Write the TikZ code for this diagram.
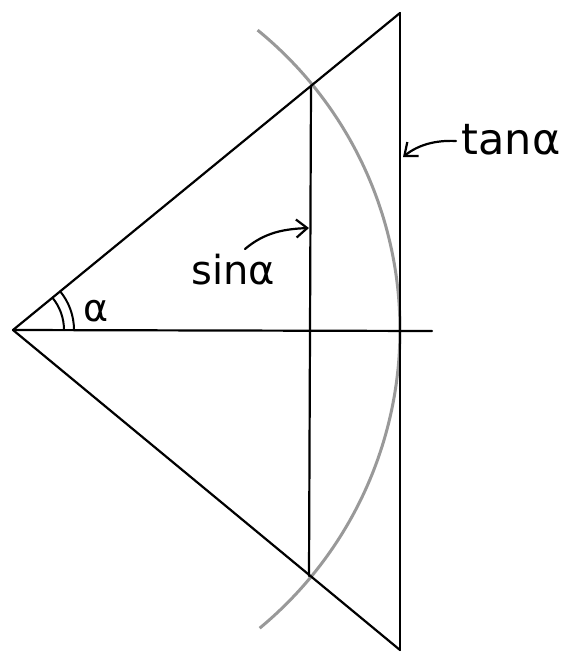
\documentclass[tikz,border=0pt]{standalone}
\usepackage{fontspec}
\setsansfont{DejaVu Sans}
\usetikzlibrary{arrows.meta}
\begin{document}
\begin{tikzpicture}[x=1pt,y=-1pt,
  main/.style={line width=2.2pt,black,line cap=round},
  arcline/.style={line width=3pt,black!40},
  labelarrow/.style={line width=2.2pt,line cap=round,-{Straight Barb[length=11pt,width=18pt,line width=2.2pt]}},
  lbl/.style={inner sep=0pt,font=\sffamily\fontsize{40}{44}\selectfont}]
\useasboundingbox (0,0) rectangle (566,654);
% points
\coordinate (O) at (13,330);
\coordinate (A) at (400,13);
\coordinate (B) at (400,650);
\coordinate (H) at (432,331);
\coordinate (S1) at (311,87);
\coordinate (S2) at (309,576);
% gray arc (circle of radius 387 about O)
\draw[arcline] (O) ++(-50.8:387) arc[start angle=-50.8, end angle=50.4, radius=387];
% triangle lines
\draw[main] (O) -- (A);
\draw[main] (O) -- (B);
\draw[main] (A) -- (B);
\draw[main] (O) -- (H);
\draw[main] (S1) -- (S2);
% angle marks
\draw[main,line width=2pt] (O) ++(-39.3:51) arc[start angle=-39.3, end angle=0, radius=51];
\draw[main,line width=2pt] (O) ++(-39.3:61) arc[start angle=-39.3, end angle=0, radius=61];
\node[inner sep=0pt,font=\sffamily\fontsize{38}{40}\selectfont] (alpha) at (96,311) {α};
% labels
\node[lbl] (sinlbl) at (233,270) {sinα};
\node[lbl,font=\sffamily\fontsize{43}{46}\selectfont] (tanlbl) at (511,140) {tanα};
\coordinate (sinstart) at (245,249);
\coordinate (sintip) at (309,228);
\coordinate (tanstart) at (456,141);
\coordinate (tantip) at (403,157);
\draw[labelarrow] (sinstart) .. controls (265,232) and (285,229) .. (sintip);
\draw[labelarrow] (tanstart) .. controls (435,140) and (418,145) .. (tantip);
\end{tikzpicture}
\end{document}
